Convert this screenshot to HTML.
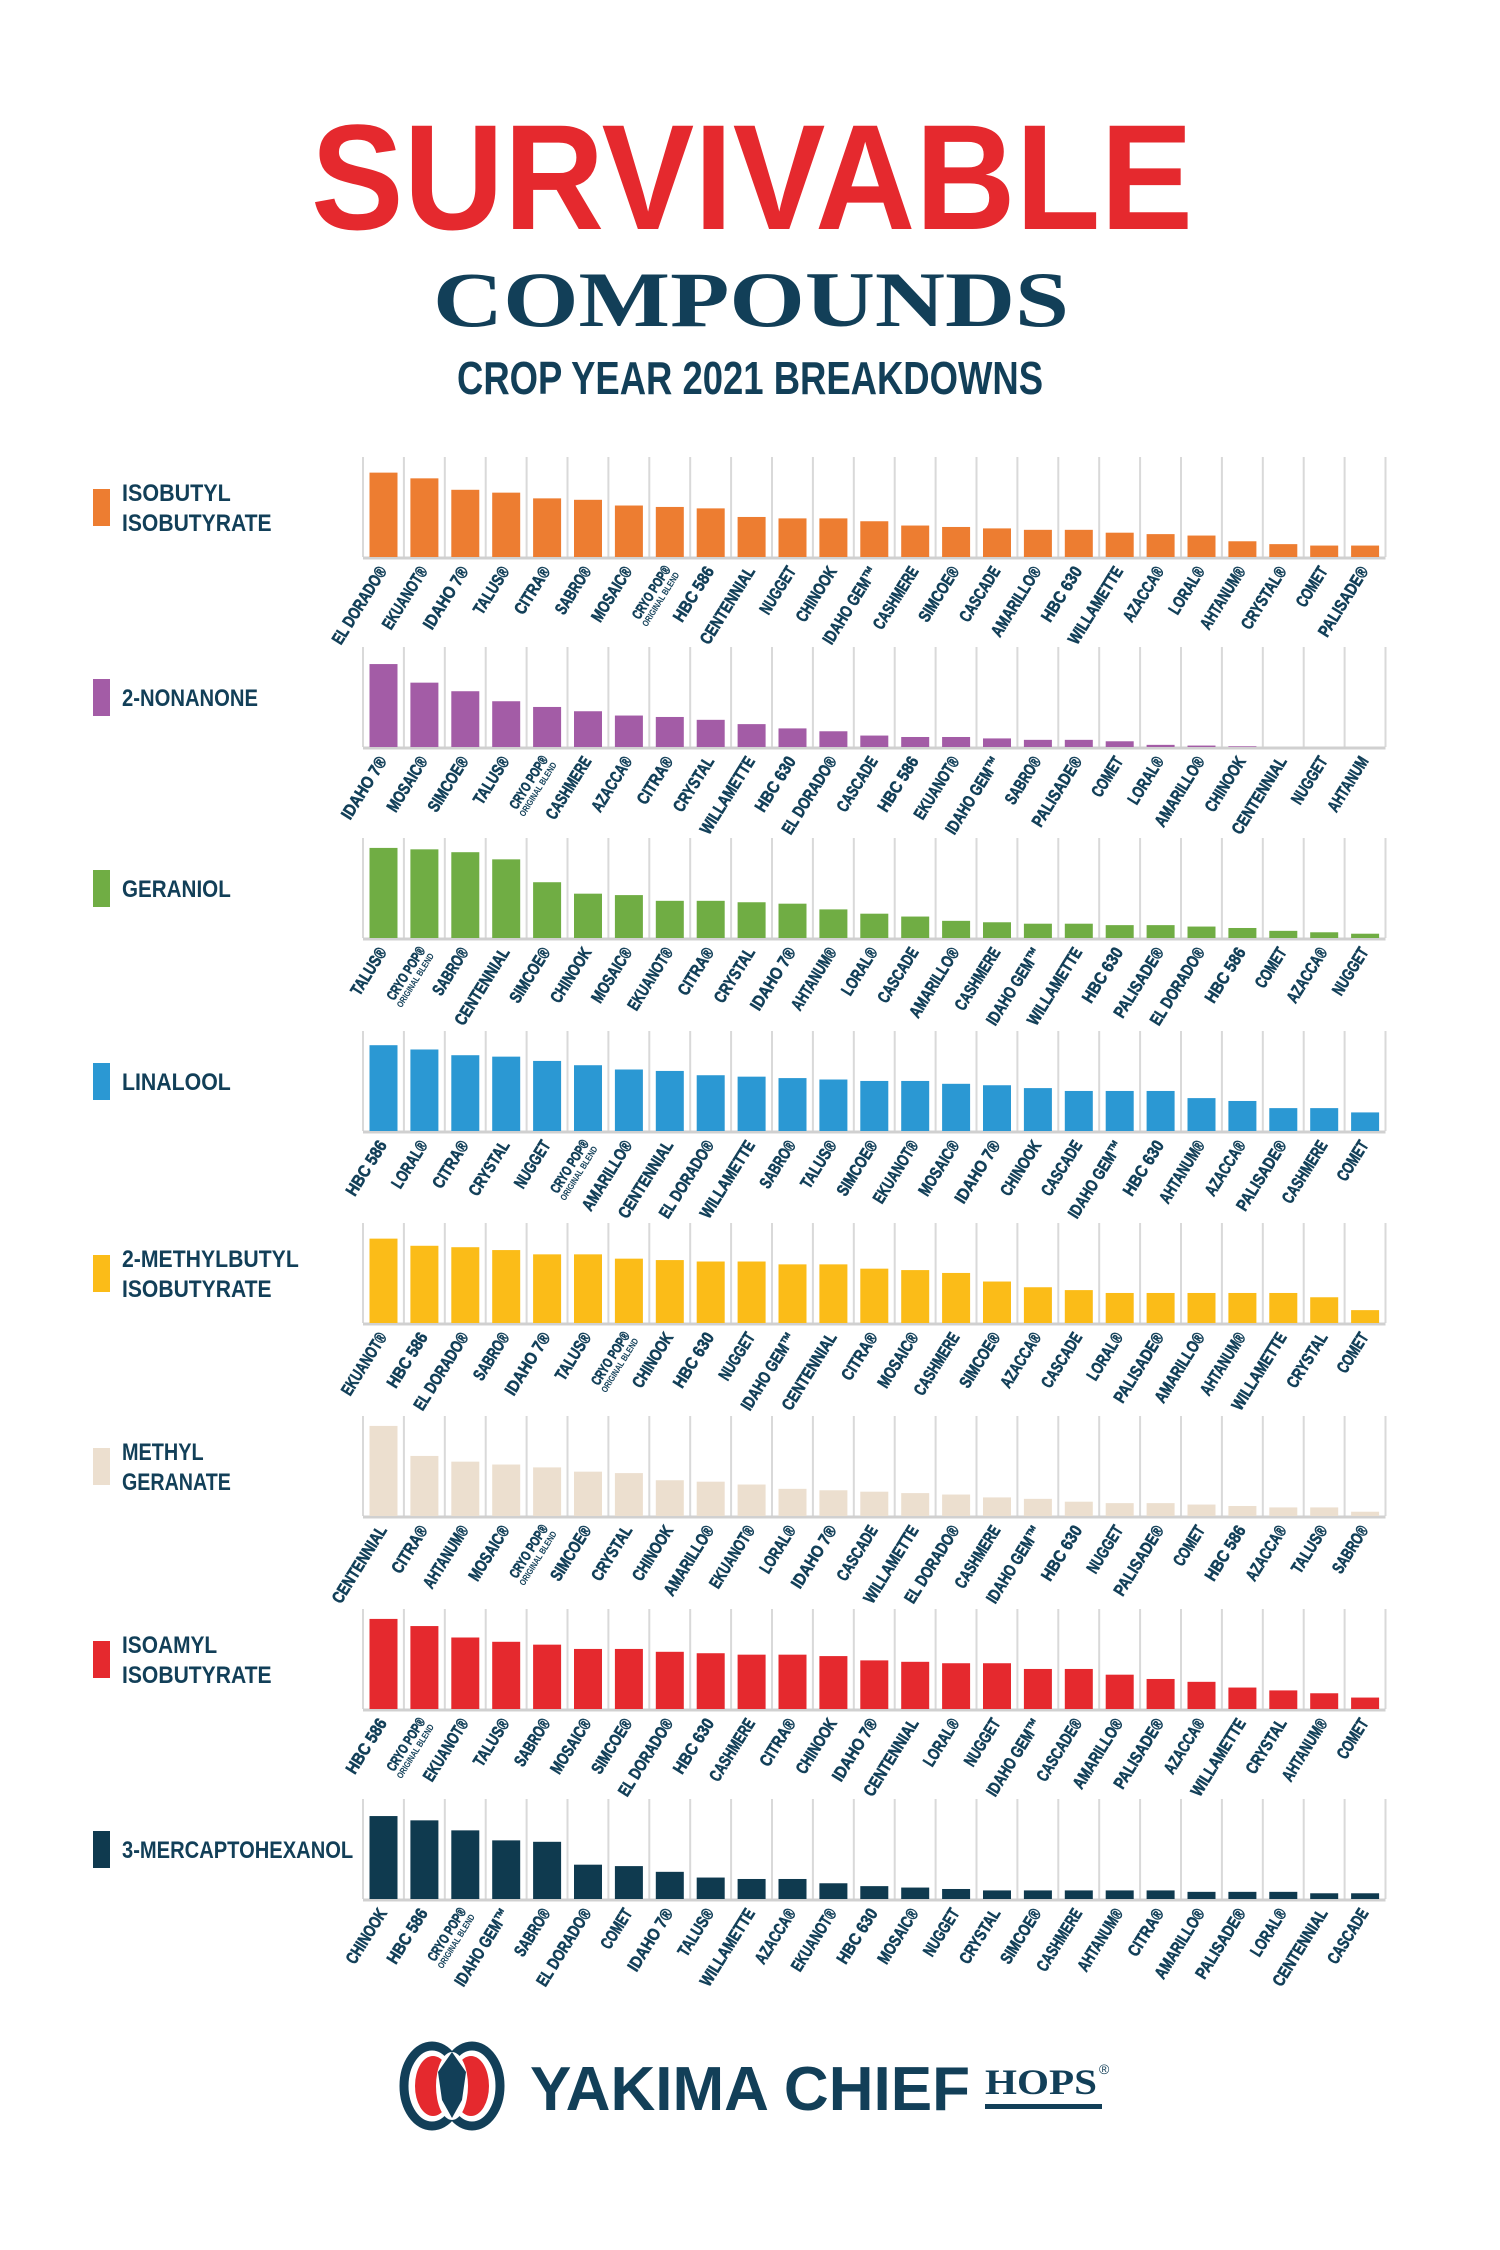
<!DOCTYPE html>
<html><head><meta charset="utf-8"><style>
html,body{margin:0;padding:0;background:#fff;}
svg{display:block;}
text{font-family:"Liberation Sans",sans-serif;}
</style></head><body>
<svg id="poster" width="1500" height="2250" viewBox="0 0 1500 2250" xmlns="http://www.w3.org/2000/svg">
<rect width="1500" height="2250" fill="#fff"/>
<text x="752" y="229" text-anchor="middle" font-size="150" font-weight="bold" fill="#e5292e" textLength="882" lengthAdjust="spacingAndGlyphs">SURVIVABLE</text>
<text x="751" y="326" text-anchor="middle" font-size="78" font-weight="bold" fill="#123f58" style="font-family:'Liberation Serif',serif" textLength="636" lengthAdjust="spacingAndGlyphs">COMPOUNDS</text>
<text x="750" y="394" text-anchor="middle" font-size="46" font-weight="bold" fill="#123f58" textLength="586" lengthAdjust="spacingAndGlyphs">CROP YEAR 2021 BREAKDOWNS</text>
<g id="charts"></g>
<g>
<ellipse cx="432" cy="2086" rx="28" ry="40" fill="none" stroke="#123f58" stroke-width="9"/>
<ellipse cx="472" cy="2086" rx="28" ry="40" fill="none" stroke="#123f58" stroke-width="9"/>
<ellipse cx="433" cy="2086" rx="18" ry="30" fill="#e5292e"/>
<ellipse cx="471" cy="2086" rx="18" ry="30" fill="#e5292e"/>
<ellipse cx="452" cy="2086" rx="16" ry="34" fill="#fff"/>
<path d="M452 2052 L466 2072 L462 2100 L452 2118 L442 2100 L438 2072 Z" fill="#123f58"/>
<text x="530" y="2110" font-size="62" font-weight="bold" fill="#123f58" textLength="440" lengthAdjust="spacingAndGlyphs">YAKIMA CHIEF</text>
<text x="985" y="2094" font-size="36" font-weight="bold" fill="#123f58" style="font-family:'Liberation Serif',serif" textLength="112" lengthAdjust="spacingAndGlyphs">HOPS</text>
<text x="1099" y="2074" font-size="14" fill="#123f58">®</text>
<rect x="985" y="2104" width="117" height="5" fill="#123f58"/>
</g>
</svg>
<script>
const chart1Names=["EL DORADO®","EKUANOT®","IDAHO 7®","TALUS®","CITRA®","SABRO®","MOSAIC®","CRYO POP®","HBC 586","CENTENNIAL","NUGGET","CHINOOK","IDAHO GEM™","CASHMERE","SIMCOE®","CASCADE","AMARILLO®","HBC 630","WILLAMETTE","AZACCA®","LORAL®","AHTANUM®","CRYSTAL®","COMET","PALISADE®"];
const chart1Values=[59,55,47,45,41,40,36,35,34,28,27,27,25,22,21,20,19,19,17,16,15,11,9,8,8];
const chart2Names=["IDAHO 7®","MOSAIC®","SIMCOE®","TALUS®","CRYO POP®","CASHMERE","AZACCA®","CITRA®","CRYSTAL","WILLAMETTE","HBC 630","EL DORADO®","CASCADE","HBC 586","EKUANOT®","IDAHO GEM™","SABRO®","PALISADE®","COMET","LORAL®","AMARILLO®","CHINOOK","CENTENNIAL","NUGGET","AHTANUM"];
const chart2Values=[58,45,39,32,28,25,22,21,19,16,13,11,8,7,7,6,5,5,4,1.5,1,0.5,0,0,0];
const chart3Names=["TALUS®","CRYO POP®","SABRO®","CENTENNIAL","SIMCOE®","CHINOOK","MOSAIC®","EKUANOT®","CITRA®","CRYSTAL","IDAHO 7®","AHTANUM®","LORAL®","CASCADE","AMARILLO®","CASHMERE","IDAHO GEM™","WILLAMETTE","HBC 630","PALISADE®","EL DORADO®","HBC 586","COMET","AZACCA®","NUGGET"];
const chart3Values=[63,62,60,55,39,31,30,26,26,25,24,20,17,15,12,11,10,10,9,9,8,7,5,4,3];
const chart4Names=["HBC 586","LORAL®","CITRA®","CRYSTAL","NUGGET","CRYO POP®","AMARILLO®","CENTENNIAL","EL DORADO®","WILLAMETTE","SABRO®","TALUS®","SIMCOE®","EKUANOT®","MOSAIC®","IDAHO 7®","CHINOOK","CASCADE","IDAHO GEM™","HBC 630","AHTANUM®","AZACCA®","PALISADE®","CASHMERE","COMET"];
const chart4Values=[60,57,53,52,49,46,43,42,39,38,37,36,35,35,33,32,30,28,28,28,23,21,16,16,13];
const chart5Names=["EKUANOT®","HBC 586","EL DORADO®","SABRO®","IDAHO 7®","TALUS®","CRYO POP®","CHINOOK","HBC 630","NUGGET","IDAHO GEM™","CENTENNIAL","CITRA®","MOSAIC®","CASHMERE","SIMCOE®","AZACCA®","CASCADE","LORAL®","PALISADE®","AMARILLO®","AHTANUM®","WILLAMETTE","CRYSTAL","COMET"];
const chart5Values=[59,54,53,51,48,48,45,44,43,43,41,41,38,37,35,29,25,23,21,21,21,21,21,18,9];
const chart6Names=["CENTENNIAL","CITRA®","AHTANUM®","MOSAIC®","CRYO POP®","SIMCOE®","CRYSTAL","CHINOOK","AMARILLO®","EKUANOT®","LORAL®","IDAHO 7®","CASCADE","WILLAMETTE","EL DORADO®","CASHMERE","IDAHO GEM™","HBC 630","NUGGET","PALISADE®","COMET","HBC 586","AZACCA®","TALUS®","SABRO®"];
const chart6Values=[63,42,38,36,34,31,30,25,24,22,19,18,17,16,15,13,12,10,9,9,8,7,6,6,3];
const chart7Names=["HBC 586","CRYO POP®","EKUANOT®","TALUS®","SABRO®","MOSAIC®","SIMCOE®","EL DORADO®","HBC 630","CASHMERE","CITRA®","CHINOOK","IDAHO 7®","CENTENNIAL","LORAL®","NUGGET","IDAHO GEM™","CASCADE®","AMARILLO®","PALISADE®","AZACCA®","WILLAMETTE","CRYSTAL","AHTANUM®","COMET"];
const chart7Values=[63,58,50,47,45,42,42,40,39,38,38,37,34,33,32,32,28,28,24,21,19,15,13,11,8];
const chart8Names=["CHINOOK","HBC 586","CRYO POP®","IDAHO GEM™","SABRO®","EL DORADO®","COMET","IDAHO 7®","TALUS®","WILLAMETTE","AZACCA®","EKUANOT®","HBC 630","MOSAIC®","NUGGET","CRYSTAL","SIMCOE®","CASHMERE","AHTANUM®","CITRA®","AMARILLO®","PALISADE®","LORAL®","CENTENNIAL","CASCADE"];
const chart8Values=[58,55,48,41,40,24,23,19,15,14,14,11,9,8,7,6,6,6,6,6,5,5,5,4,4];
const compoundTitles=[["ISOBUTYL","ISOBUTYRATE"],["2-NONANONE"],["GERANIOL"],["LINALOOL"],["2-METHYLBUTYL","ISOBUTYRATE"],["METHYL","GERANATE"],["ISOAMYL","ISOBUTYRATE"],["3-MERCAPTOHEXANOL"]];
const compoundColors=["#ed7d31","#a35ca6","#70ad44","#2b98d3","#fbbc18","#ecdfcf","#e5292e","#0f3a4f"];
const allNames=[chart1Names,chart2Names,chart3Names,chart4Names,chart5Names,chart6Names,chart7Names,chart8Names];
const allValues=[chart1Values,chart2Values,chart3Values,chart4Values,chart5Values,chart6Values,chart7Values,chart8Values];

const NS="http://www.w3.org/2000/svg";
const root=document.getElementById('charts');
const baselines=[557,747,938,1131,1323,1516,1709,1899];
const X0=363,CELL=40.9,PLOT_H=100,UNIT=1.43;
function xScale(i){return X0+CELL*i;}
function yScale(v,base){return base-v*UNIT;}
function mk(tag,attrs,parent){const e=document.createElementNS(NS,tag);for(const k in attrs)e.setAttribute(k,attrs[k]);parent.appendChild(e);return e;}

allValues.forEach((vals,c)=>{
  const base=baselines[c];
  const g=mk('g',{},root);
  
  
  const lines=compoundTitles[c];
  const mid=base-50;
  const sq=mk('rect',{x:93,y:mid-18,width:17,height:37,fill:compoundColors[c]},g);
  
  
  lines.forEach((t,li)=>{
    const y=lines.length===1?mid+9:mid-6+li*30;
    const tx=mk('text',{x:122,y:y,'font-size':24,'font-weight':'bold',fill:'#123f58'},g);
    tx.textContent=t;
    tx.setAttribute('textLength',t.length*13.6);
    tx.setAttribute('lengthAdjust','spacingAndGlyphs');
    
    
  });
  for(let i=0;i<=vals.length;i++){
    const l=mk('line',{x1:xScale(i),x2:xScale(i),y1:base-PLOT_H,y2:base,stroke:'#d9d9d9','stroke-width':2},g);
    
    
  }
  const ax=mk('line',{x1:X0,x2:xScale(vals.length),y1:base+1,y2:base+1,stroke:'#d0d0d0','stroke-width':3},g);
  
  
  vals.forEach((v,i)=>{
    const y=yScale(v,base);
    const b=mk('rect',{x:xScale(i)+6.5,y:y,width:28,height:base-y,fill:compoundColors[c]},g);
    
    
    const cx=xScale(i)+CELL/2+4, cy=base+14;
    const name=allNames[c][i];
    const lg=mk('g',{transform:'translate('+cx+' '+cy+') rotate(-58)'},g);
    const t=mk('text',{x:0,y:0,'font-size':17,'font-weight':'bold',fill:'#123f58','text-anchor':'end',stroke:'#123f58','stroke-width':0.6},lg);
    
    
    if(name==='CRYO POP®'){
      t.setAttribute('font-size',14);
      t.setAttribute('y',-3);
      t.textContent=name;
      t.setAttribute('textLength',60);
      t.setAttribute('lengthAdjust','spacingAndGlyphs');
      const t2=mk('text',{x:0,y:7,'font-size':9,'font-weight':'bold',fill:'#123f58','text-anchor':'end'},lg);
      t2.textContent='ORIGINAL BLEND';
      t2.setAttribute('textLength',62);
      t2.setAttribute('lengthAdjust','spacingAndGlyphs');
      
      
    } else {
      t.textContent=name;
      t.setAttribute('textLength',name.length*8.8);
      t.setAttribute('lengthAdjust','spacingAndGlyphs');
    }
  });
});
</script>
</body></html>
